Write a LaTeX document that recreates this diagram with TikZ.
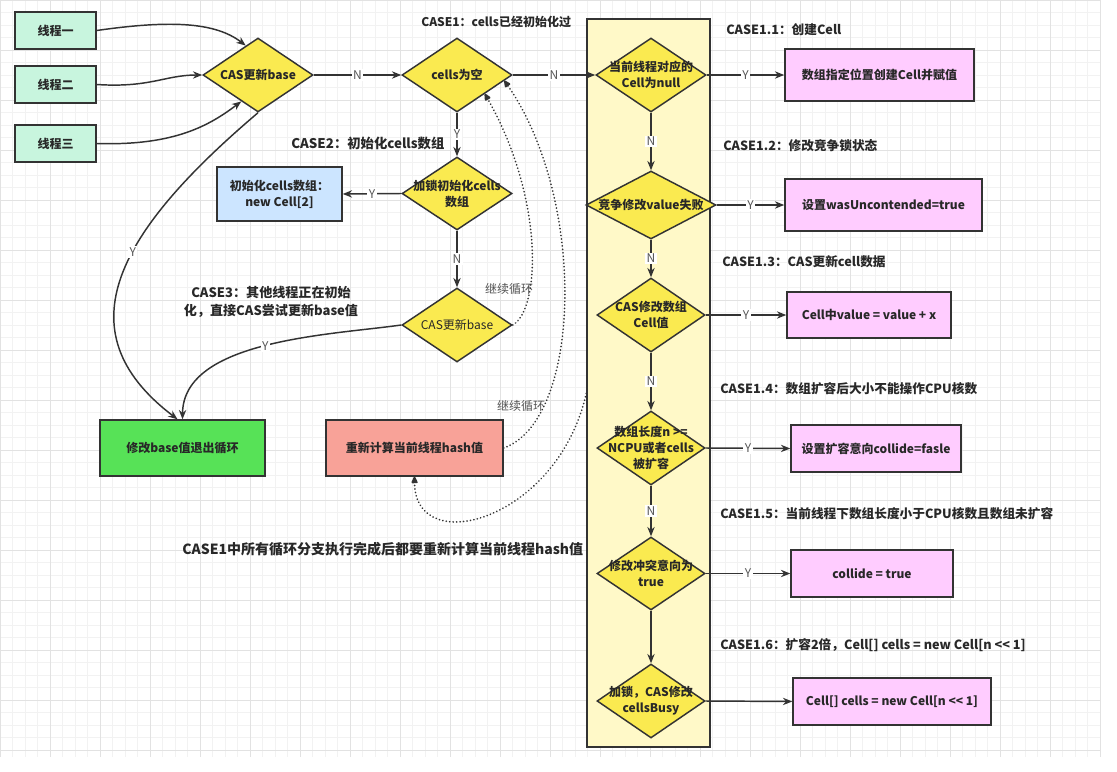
\documentclass[tikz,border=0pt]{standalone}
\usepackage{fontspec}
\setmainfont{Noto Sans CJK SC}
\usetikzlibrary{arrows.meta,calc,shapes.geometric}
\definecolor{lineC}{RGB}{51,51,51}
\definecolor{textC}{RGB}{40,40,40}
\definecolor{lblC}{RGB}{85,85,85}
\definecolor{mint}{RGB}{200,245,222}
\definecolor{dyel}{RGB}{250,234,80}
\definecolor{contY}{RGB}{255,249,200}
\definecolor{lblue}{RGB}{204,229,255}
\definecolor{lgreen}{RGB}{87,226,87}
\definecolor{salmon}{RGB}{248,162,152}
\definecolor{pinkC}{RGB}{255,204,255}
\definecolor{gminor}{RGB}{242,242,242}
\definecolor{gmajor}{RGB}{226,226,226}
\newcommand{\fsz}{\fontsize{9pt}{12pt}\selectfont}
\newcommand{\fszb}{\fontsize{9.5pt}{12pt}\selectfont}
\newcommand{\fszc}{\fontsize{10.5pt}{13pt}\selectfont}
\begin{document}
\begin{tikzpicture}[x=0.75pt,y=-0.75pt,
  box/.style={draw=lineC, line width=1.1pt, text=textC, font=\fsz\bfseries, align=center, inner sep=0pt},
  thr/.style={box, fill=mint, minimum width=60.75pt, minimum height=27.75pt},
  dia/.style={draw=lineC, line width=1.1pt, shape=diamond, fill=dyel, inner sep=0pt, minimum width=82.5pt, minimum height=55.5pt},
  dtx/.style={text=textC, font=\fsz\bfseries, align=center, inner sep=0pt},
  arr/.style={draw=lineC, line width=1.1pt, -{Stealth[length=7pt,width=5.5pt]}},
  dotarr/.style={draw=lineC, line width=1.4pt, line cap=round, dash pattern=on 0.01pt off 2.6pt, -{Triangle[length=6pt,width=5pt,round]}},
  lbl/.style={fill=white, text=lblC, font=\fsz, inner sep=1pt},
  casel/.style={text=textC, font=\fszb\bfseries, anchor=west, inner sep=0pt},
  note/.style={text=lblC, font=\fsz, inner sep=0pt},
  pbox/.style={box, fill=pinkC}
]
\useasboundingbox (0,0) rectangle (1117,771);
\fill[white] (0,0) rectangle (1117,771);
% grid
\foreach \i in {0,...,88} \draw[gminor, line width=0.5pt] (\i*12.5,0) -- (\i*12.5,757);
\foreach \j in {0,...,60} \draw[gminor, line width=0.5pt] (0,\j*12.5) -- (1100,\j*12.5);
\foreach \i in {0,...,22} \draw[gmajor, line width=0.6pt] (\i*50,0) -- (\i*50,757);
\foreach \j in {0,...,15} \draw[gmajor, line width=0.6pt] (0,\j*50) -- (1100,\j*50);

% container
\node[draw=lineC, line width=1.1pt, fill=contY, minimum width=92.25pt, minimum height=546pt, inner sep=0pt] (cont) at (648.5,383) {};

% threads
\node[thr] (t1) at (55.5,30.5) {线程一};
\node[thr] (t2) at (55.5,84.5) {线程二};
\node[thr] (t3) at (55.5,143.5) {线程三};

% left diamonds
\node[dia] (d0) at (258,75) {};
\node[dtx] (d0t) at (d0.center) {CAS更新base};
\node[dia] (d1) at (457,75) {};
\node[dtx] (d1t) at (d1.center) {cells为空};
\node[dia, minimum height=54.75pt] (d2) at (457,193.5) {};
\node[dtx] (d2t) at (d2.center) {加锁初始化cells\\数组};
\node[dia] (d3) at (457,325) {};
\node[dtx, font=\fsz] (d3t) at (d3.center) {CAS更新base};

% boxes
\node[box, fill=lblue, minimum width=93.75pt, minimum height=40.5pt] (blue) at (279.5,194) {初始化cells数组：\\new Cell[2]};
\node[box, fill=lgreen, minimum width=123.75pt, minimum height=42pt] (green) at (182.5,448) {修改base值退出循环};
\node[box, fill=salmon, minimum width=132.75pt, minimum height=42pt] (red) at (414.5,448) {重新计算当前线程hash值};

% container diamonds
\node[dia] (c1) at (651,75) {};
\node[dtx] (c1t) at (c1.center) {当前线程对应的\\Cell为null};
\node[dia, minimum width=97.5pt, minimum height=51pt] (c2) at (651,205) {};
\node[dtx] (c2t) at (c2.center) {竞争修改value失败};
\node[dia, minimum width=81pt] (c3) at (651,315) {};
\node[dtx] (c3t) at (c3.center) {CAS修改数组\\Cell值};
\node[dia, minimum width=81pt] (c4) at (651,448) {};
\node[dtx] (c4t) at (c4.center) {数组长度n >=\\NCPU或者cells\\被扩容};
\node[dia, minimum width=81pt, minimum height=54.75pt] (c5) at (651,573.5) {};
\node[dtx] (c5t) at (c5.center) {修改冲突意向为\\true};
\node[dia, minimum width=81pt] (c6) at (651,701) {};
\node[dtx] (c6t) at (c6.center) {加锁，CAS修改\\cellsBusy};

% right boxes
\node[pbox, minimum width=141.75pt, minimum height=39pt] (r1) at (879.5,75) {数组指定位置创建Cell并赋值};
\node[pbox, minimum width=147.75pt, minimum height=39pt] (r2) at (883.5,205) {设置wasUncontended=true};
\node[pbox, minimum width=123pt, minimum height=34.5pt] (r3) at (869,315) {Cell中value = value + x};
\node[pbox, minimum width=127.5pt, minimum height=35.25pt] (r4) at (876,448.5) {设置扩容意向collide=fasle};
\node[pbox, minimum width=121.5pt, minimum height=35.25pt] (r5) at (872,573.5) {collide = true};
\node[pbox, minimum width=148.5pt, minimum height=35.25pt] (r6) at (892,701.5) {Cell[] cells = new Cell[n <{}< 1]};

% texts
\node[casel, font=\fsz\bfseries] (k1) at (421,22) {CASE1：cells已经初始化过};
\node[casel] (k11) at (726,30) {CASE1.1：创建Cell};
\node[casel] (k12) at (723,146) {CASE1.2：修改竞争锁状态};
\node[casel] (k13) at (722,262) {CASE1.3：CAS更新cell数据};
\node[casel] (k14) at (720,389) {CASE1.4：数组扩容后大小不能操作CPU核数};
\node[casel] (k15) at (720,514) {CASE1.5：当前线程下数组长度小于CPU核数且数组未扩容};
\node[casel] (k16) at (720,645) {CASE1.6：扩容2倍，Cell[] cells = new Cell[n <{}< 1]};
\node[casel, font=\fontsize{10pt}{13pt}\selectfont\bfseries] (k2) at (291,143) {CASE2：初始化cells数组};
\node[text=textC, font=\fontsize{9.8pt}{13.5pt}\selectfont\bfseries, align=center, inner sep=0pt] (k3) at (271,302) {CASE3：其他线程正在初始\\化，直接CAS尝试更新base值};
\node[casel, font=\fszc\bfseries] (kb) at (182,549) {CASE1中所有循环分支执行完成后都要重新计算当前线程hash值};
\node[note] (lp1) at (509,289) {继续循环};
\node[note] (lp2) at (521,406) {继续循环};

% thread arrows
\draw[arr] (t1.east) .. controls (170,20) and (215,22) .. ($(d0.west)!0.78!(d0.north)$);
\draw[arr] (t2.east) .. controls (150,88) and (165,75) .. (d0.west);
\draw[arr] (t3.east) .. controls (175,146) and (210,125) .. ($(d0.west)!0.7!(d0.south)$);

% main flow
\draw[arr] (d0.east) -- node[lbl]{N} (d1.west);
\draw[arr] (d1.east) -- node[lbl]{N} (c1.west);
\draw[arr] (d1.south) -- node[lbl]{Y} (d2.north);
\draw[arr] (d2.west) -- node[lbl]{Y} (blue.east);
\draw[arr] (d2.south) -- node[lbl]{N} (d3.north);
\draw[arr] (d3.west) .. controls (330,335) and (183,340) .. node[lbl,pos=0.5]{Y} (green.north);
\draw[arr] (d0.south) .. controls (120,230) and (60,330) .. node[lbl,pos=0.42]{Y} ($(green.north)+(-5,0)$);

% container flow
\draw[arr] (c1.south) -- node[lbl]{N} (c2.north);
\draw[arr] (c2.south) -- node[lbl]{N} (c3.north);
\draw[arr] (c3.south) -- node[lbl]{N} (c4.north);
\draw[arr] (c4.south) -- node[lbl]{N} (c5.north);
\draw[arr] (c5.south) -- (c6.north);
\draw[arr] (c1.east) -- node[lbl]{Y} (r1.west);
\draw[arr] (c2.east) -- node[lbl]{Y} (r2.west);
\draw[arr] (c3.east) -- node[lbl]{Y} (r3.west);
\draw[arr] (c4.east) -- node[lbl]{Y} (r4.west);
\draw[arr] (c5.east) -- node[lbl]{Y} (r5.west);
\draw[arr] (c6.east) -- (r6.west);

% dotted loops
\draw[dotarr] (d3.east) .. controls (540,310) and (545,200) .. ($(d1.east)!0.5!(d1.south)$);
\draw[dotarr] (red.east) .. controls (582,420) and (587,200) .. ($(d1.east)!0.15!(d1.south)$);
\coordinate (cl) at (587,390);
\draw[dotarr] (cl) .. controls (560,520) and (415,560) .. (red.south);
\end{tikzpicture}
\end{document}
